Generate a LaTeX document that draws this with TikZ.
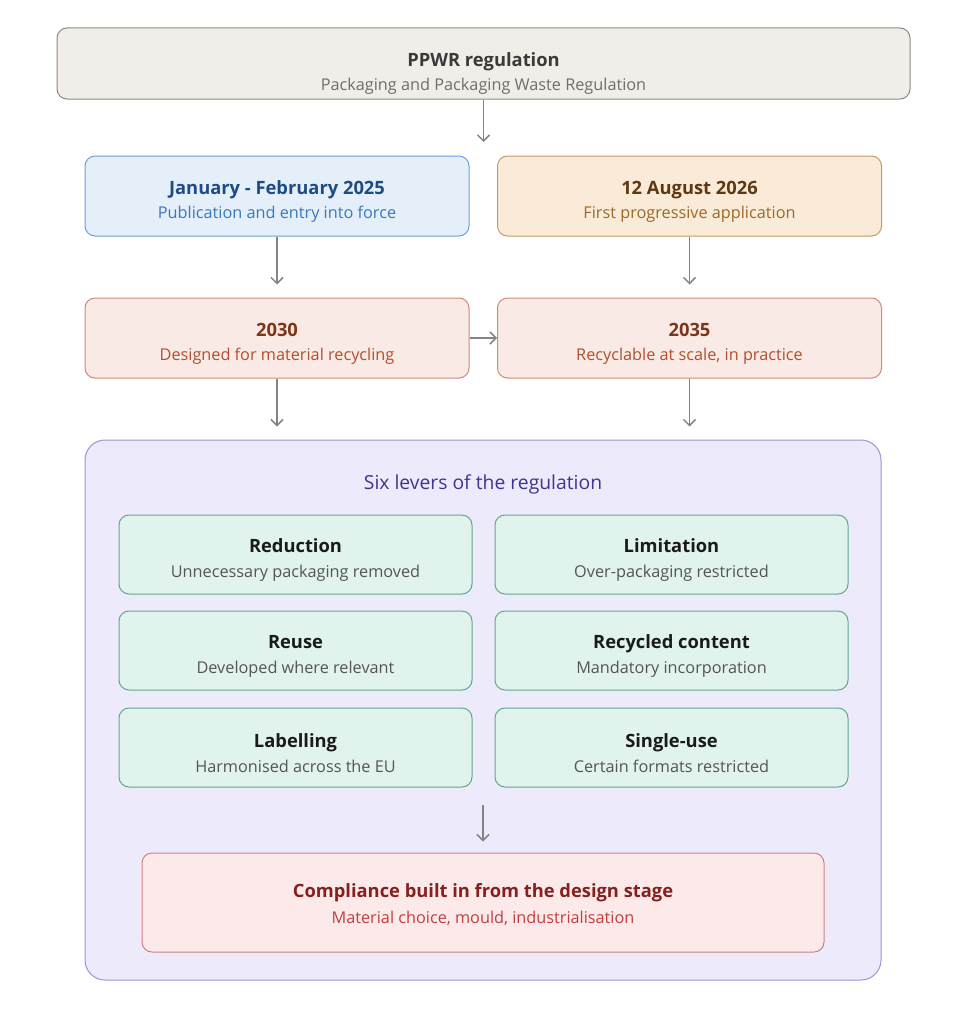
\documentclass[tikz,border=0pt]{standalone}
\usepackage{fontspec}
\setmainfont{Open Sans}
\usetikzlibrary{arrows.meta}

\definecolor{topfill}{HTML}{F1EEE9}
\definecolor{topline}{HTML}{8C8A85}
\definecolor{toptitle}{HTML}{3A3A3A}
\definecolor{topsub}{HTML}{6E6E6E}
\definecolor{janfill}{HTML}{E4EFFA}
\definecolor{janline}{HTML}{6C9FD9}
\definecolor{jantitle}{HTML}{1D4B86}
\definecolor{jansub}{HTML}{3878C2}
\definecolor{augfill}{HTML}{FAEBD8}
\definecolor{augline}{HTML}{C39B64}
\definecolor{augtitle}{HTML}{5E3810}
\definecolor{augsub}{HTML}{9A6A28}
\definecolor{yrfill}{HTML}{FAEAE5}
\definecolor{yrline}{HTML}{D08A74}
\definecolor{yrtitle}{HTML}{7E3418}
\definecolor{yrsub}{HTML}{B0502E}
\definecolor{panelfill}{HTML}{EDEBFB}
\definecolor{panelline}{HTML}{9D93DE}
\definecolor{paneltitle}{HTML}{3E3491}
\definecolor{levfill}{HTML}{E0F3EC}
\definecolor{levline}{HTML}{62A88C}
\definecolor{levtitle}{HTML}{1A1A1A}
\definecolor{levsub}{HTML}{555555}
\definecolor{compfill}{HTML}{FCE9E9}
\definecolor{compline}{HTML}{D47F7F}
\definecolor{comptitle}{HTML}{86201F}
\definecolor{compsub}{HTML}{C0403F}
\definecolor{arrowgray}{HTML}{858580}

% #1 strut height, #2 title, #3 subtitle colour, #4 subtitle
\newcommand{\boxtext}[4]{\rule{0pt}{#1}\textbf{#2}\\{\fontsize{12.2}{18}\selectfont\color{#3}#4}}

\begin{document}
\begin{tikzpicture}[x=0.75pt, y=-0.75pt,
    box/.style={draw, rounded corners=7.5pt, line width=0.75pt, align=center,
        inner sep=0pt, font=\fontsize{13.75}{18.5}\selectfont},
    datebox/.style={box, minimum width=288pt, minimum height=60pt},
    leverbox/.style={box, minimum width=264.75pt, minimum height=59.25pt,
        fill=levfill, draw=levline, text=levtitle},
    arr/.style={-{Straight Barb[length=4.5pt,width=9pt]}, draw=arrowgray, line width=1.1pt}]
    \useasboundingbox (0,0) rectangle (967,1024);

    \node [box, fill=topfill, draw=topline, text=toptitle, minimum width=639.75pt,
        minimum height=53.25pt] (top) at (483.5,63.5)
        {\boxtext{25.5pt}{PPWR regulation}{topsub}{Packaging and Packaging Waste Regulation}};

    \node [datebox, fill=janfill, draw=janline, text=jantitle] (jan) at (277,196)
        {\boxtext{18.5pt}{January - February 2025}{jansub}{Publication and entry into force}};
    \node [datebox, fill=augfill, draw=augline, text=augtitle] (aug) at (689.5,196)
        {\boxtext{18.5pt}{12 August 2026}{augsub}{First progressive application}};

    \node [datebox, fill=yrfill, draw=yrline, text=yrtitle] (y2030) at (277,338)
        {\boxtext{18.5pt}{2030}{yrsub}{Designed for material recycling}};
    \node [datebox, fill=yrfill, draw=yrline, text=yrtitle] (y2035) at (689.5,338)
        {\boxtext{18.5pt}{2035}{yrsub}{Recyclable at scale, in practice}};

    % panel with the six levers
    \node [draw=panelline, fill=panelfill, rounded corners=15pt, line width=0.75pt,
        minimum width=597pt, minimum height=405pt, inner sep=0pt] (panel) at (483,710) {};
    \node [text=paneltitle, font=\fontsize{14.5}{16}\selectfont] (paneltop) at (483,484)
        {Six levers of the regulation};

    \node [leverbox] (reduction) at (295.5,554.5)
        {\boxtext{18.5pt}{Reduction}{levsub}{Unnecessary packaging removed}};
    \node [leverbox] (limitation) at (671.5,554.5)
        {\boxtext{18.5pt}{Limitation}{levsub}{Over-packaging restricted}};
    \node [leverbox] (reuse) at (295.5,650.5)
        {\boxtext{18.5pt}{Reuse}{levsub}{Developed where relevant}};
    \node [leverbox] (recycled) at (671.5,650.5)
        {\boxtext{18.5pt}{Recycled content}{levsub}{Mandatory incorporation}};
    \node [leverbox] (labelling) at (295.5,747.5)
        {\boxtext{18.5pt}{Labelling}{levsub}{Harmonised across the EU}};
    \node [leverbox] (singleuse) at (671.5,747.5)
        {\boxtext{18.5pt}{Single-use}{levsub}{Certain formats restricted}};

    \node [box, fill=compfill, draw=compline, text=comptitle, minimum width=511.5pt,
        minimum height=74.25pt, font=\fontsize{13.75}{19.75}\selectfont] (comply) at (483,902.5)
        {\boxtext{14pt}{Compliance built in from the design stage}{compsub}{Material choice, mould, industrialisation}};

    \coordinate (split) at (483.5,142);
    \coordinate (leversout) at (483,805);

    \draw [arr] (top) -- (split);
    \draw [arr, shorten >=9.75pt] (jan) -- (y2030);
    \draw [arr, shorten >=9.75pt] (aug) -- (y2035);
    \draw [arr] (y2030) -- (y2035);
    \draw [arr, shorten >=9.75pt] (y2030.south) -- (y2030.south |- panel.north);
    \draw [arr, shorten >=9.75pt] (y2035.south) -- (y2035.south |- panel.north);
    \draw [arr, shorten >=8.25pt] (leversout) -- (comply);
\end{tikzpicture}
\end{document}
